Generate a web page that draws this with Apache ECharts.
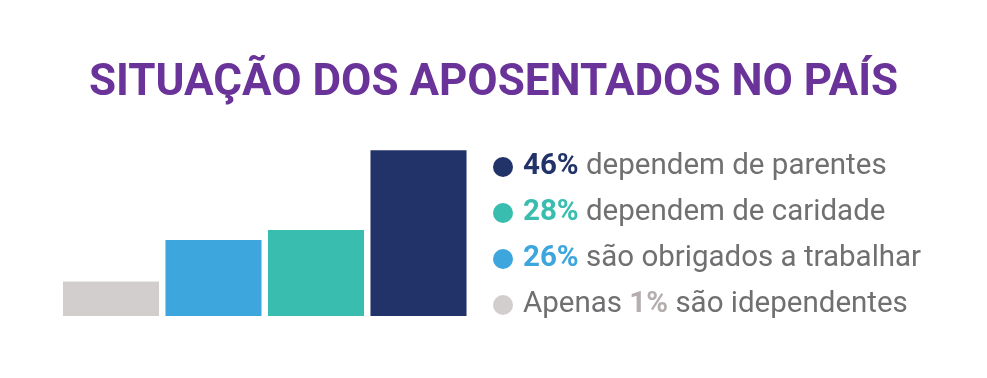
<!DOCTYPE html>
<html><head><meta charset="utf-8">
<script src="https://cdn.jsdelivr.net/npm/echarts@6/dist/echarts.min.js"></script>
<style>html,body{margin:0;padding:0;background:#fff}#c{width:987px;height:378px}</style>
</head><body><div id="c"></div>
<script>
const titleText = 'SITUAÇÃO DOS APOSENTADOS NO PAÍS';
const categories = ['Independentes', 'Trabalham', 'Caridade', 'Parentes'];
const seriesNames = ['s_ind', 's_trab', 's_car', 's_par'];
// visual bar heights (same units as the tallest bar = 46)
const barHeights = [9.6, 21.1, 23.9, 46];
const colors = ['#d3cece', '#3ca6dd', '#39bdae', '#223369'];
const pctColors = ['#b5aeae', '#3ca6dd', '#39bdae', '#223369'];
const pctLabels = ['1%', '26%', '28%', '46%'];
const textBefore = ['Apenas ', '', '', ''];
const textAfter = [' são idependentes', ' são obrigados a trabalhar', ' dependem de caridade', ' dependem de parentes'];
const legendOrder = [3, 2, 1, 0];

const FONT = 'Roboto';
const chart = echarts.init(document.getElementById('c'), null, {renderer: 'canvas'});
const series = seriesNames.map((n, i) => ({
  name: n, type: 'bar', stack: 'all',
  barCategoryGap: '6.3%',
  itemStyle: {color: colors[i]},
  data: categories.map((c, j) => j === i ? barHeights[i] : '-')
}));
const rich = {t: {fontFamily: FONT, fontSize: 29.5, color: '#707072', fontWeight: 400}};
pctColors.forEach((c, i) => { rich['p' + i] = {fontFamily: FONT, fontSize: 29.5, color: c, fontWeight: 700}; });
chart.setOption({
  animation: false,
  title: {text: titleText, left: 'center', top: 57,
    textStyle: {fontFamily: FONT, fontSize: 44, fontWeight: 700, color: '#6a3399'}},
  grid: {left: 59.75, width: 410, top: 150.3, bottom: 378 - 316},
  xAxis: {type: 'category', data: categories, show: false},
  yAxis: {type: 'value', min: 0, max: 46, show: false},
  legend: {
    orient: 'vertical', left: 493, top: 152, padding: 0, icon: 'circle', itemWidth: 20, itemHeight: 20,
    itemGap: 16,
    data: legendOrder.map(i => seriesNames[i]),
    formatter: name => {
      const i = seriesNames.indexOf(name);
      return (textBefore[i] ? '{t|' + textBefore[i] + '}' : '') + '{p' + i + '|' + pctLabels[i] + '}{t|' + textAfter[i] + '}';
    },
    textStyle: {rich: rich, padding: [0, 0, 0, 5], lineHeight: 30},
    selectedMode: false
  },
  series: series
});
</script></body></html>
